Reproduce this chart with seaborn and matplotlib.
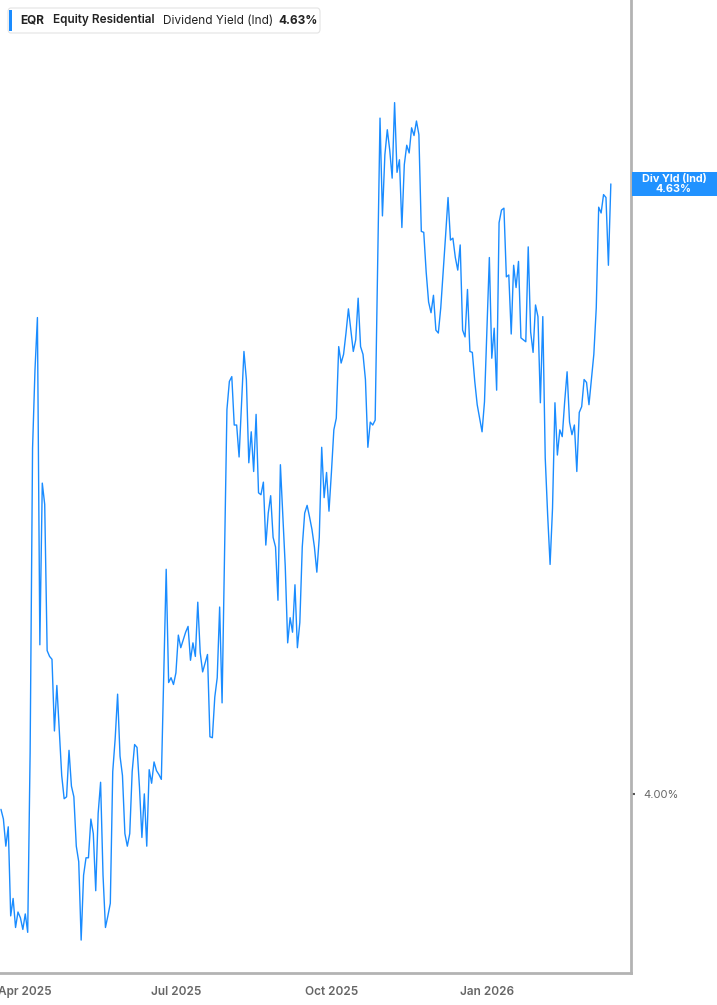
import matplotlib
matplotlib.use("Agg")
import matplotlib.pyplot as plt
import matplotlib.transforms as mtransforms
from matplotlib.patches import Rectangle, FancyBboxPatch
import seaborn as sns
import pandas as pd

# trading calendar used for the x axis (one step per trading session)
start_date = "2025-03-18"
end_date = "2026-03-31"
holidays = ["2025-04-18", "2025-05-26", "2025-06-19", "2025-07-04", "2025-09-01",
            "2025-11-27", "2025-12-25", "2026-01-01", "2026-01-19", "2026-02-16"]
tick_months = ["2025-04-01", "2025-07-01", "2025-10-01", "2026-01-01"]
tick_labels = ["Apr 2025", "Jul 2025", "Oct 2025", "Jan 2026"]

# session number (trading days since start) and dividend yield (%)
session = [0, 1, 2, 3, 4, 5, 6, 7, 8, 9, 10, 11, 12, 13, 14, 15, 16, 17, 18, 19,
           20, 21, 22, 23, 25, 26, 27, 28, 29, 30, 31, 32, 33, 34, 35, 36, 37, 38, 39, 40,
           41, 42, 43, 44, 45, 46, 47, 48, 49, 50, 51, 52, 53, 54, 55, 56, 57, 58, 59, 60,
           61, 62, 63, 64, 65, 66, 68, 69, 70, 71, 72, 73, 74, 75, 76, 77, 78, 79, 80, 81,
           82, 83, 84, 85, 86, 87, 88, 89, 90, 91, 93, 94, 95, 96, 97, 98, 100, 101, 102, 103,
           104, 105, 106, 107, 108, 109, 110, 111, 112, 113, 114, 115, 116, 117, 118, 119, 120, 121, 122, 123,
           124, 125, 126, 127, 128, 129, 130, 131, 132, 133, 134, 135, 136, 137, 138, 139, 140, 141, 142, 143,
           144, 145, 146, 147, 148, 149, 150, 151, 152, 153, 154, 156, 157, 158, 159, 160, 161, 162, 163, 164,
           165, 166, 167, 168, 169, 170, 171, 172, 173, 174, 175, 176, 177, 178, 179, 180, 181, 182, 183, 184,
           185, 186, 187, 188, 189, 190, 191, 192, 193, 194, 195, 196, 197, 198, 199, 200, 201, 202, 203, 204,
           205, 206, 207, 208, 209, 210, 211, 212, 213, 214, 215, 216, 217, 218, 219, 220, 221, 222, 223, 224,
           225, 226, 227, 228, 229, 230, 231, 232, 233, 234, 235, 236, 237, 238, 239, 240, 241, 242, 243, 244,
           245, 246, 247, 248, 249, 250, 251]
div_yield = [3.984, 3.974, 3.946, 3.966, 3.874, 3.892, 3.862, 3.878, 3.872, 3.860, 3.876, 3.857, 4.043, 4.357, 4.438, 4.492, 4.154, 4.321, 4.299, 4.148,
             4.142, 4.139, 4.065, 4.112, 4.019, 3.995, 3.997, 4.045, 4.008, 3.997, 3.946, 3.930, 3.849, 3.916, 3.934, 3.934, 3.974, 3.959, 3.900, 3.980,
             4.012, 3.916, 3.862, 3.874, 3.887, 4.023, 4.057, 4.103, 4.039, 4.019, 3.959, 3.946, 3.959, 4.023, 4.051, 4.048, 4.007, 3.955, 4.000, 3.946,
             4.025, 4.011, 4.033, 4.024, 4.020, 4.015, 4.232, 4.115, 4.120, 4.113, 4.125, 4.164, 4.151, 4.159, 4.167, 4.173, 4.138, 4.156, 4.142, 4.198,
             4.146, 4.126, 4.135, 4.144, 4.059, 4.058, 4.100, 4.120, 4.193, 4.094, 4.397, 4.426, 4.431, 4.381, 4.381, 4.348, 4.457, 4.428, 4.342, 4.374,
             4.333, 4.392, 4.311, 4.309, 4.322, 4.257, 4.290, 4.308, 4.265, 4.255, 4.200, 4.340, 4.288, 4.235, 4.156, 4.182, 4.167, 4.216, 4.151, 4.177,
             4.255, 4.290, 4.298, 4.286, 4.273, 4.255, 4.229, 4.265, 4.358, 4.306, 4.332, 4.292, 4.332, 4.376, 4.388, 4.462, 4.445, 4.454, 4.476, 4.501,
             4.479, 4.457, 4.469, 4.512, 4.462, 4.454, 4.428, 4.358, 4.384, 4.381, 4.386, 4.698, 4.597, 4.660, 4.686, 4.665, 4.636, 4.714, 4.642, 4.655,
             4.585, 4.650, 4.670, 4.662, 4.688, 4.680, 4.695, 4.681, 4.581, 4.580, 4.539, 4.508, 4.497, 4.515, 4.479, 4.476, 4.502, 4.539, 4.577, 4.616,
             4.572, 4.574, 4.554, 4.541, 4.567, 4.479, 4.472, 4.521, 4.457, 4.456, 4.426, 4.402, 4.388, 4.374, 4.405, 4.481, 4.554, 4.450, 4.481, 4.417,
             4.590, 4.603, 4.605, 4.534, 4.536, 4.475, 4.546, 4.523, 4.550, 4.471, 4.469, 4.467, 4.565, 4.477, 4.456, 4.505, 4.493, 4.404, 4.493, 4.347,
             4.288, 4.237, 4.295, 4.404, 4.350, 4.376, 4.369, 4.405, 4.436, 4.384, 4.371, 4.381, 4.333, 4.394, 4.400, 4.428, 4.425, 4.402, 4.428, 4.454,
             4.502, 4.606, 4.600, 4.619, 4.616, 4.546, 4.630]

ticker = "EQR"
company = "Equity Residential"
metric = "Dividend Yield (Ind)"
last_value = 4.63

LINE = "#1a8cff"
AXIS = "#b3b3b3"

sns.set_style("white")
plt.rcParams["font.family"] = ["Inter", "DejaVu Sans"]

trade_days = pd.bdate_range(start_date, end_date, freq="C", holidays=holidays)
tick_pos = [int(trade_days.searchsorted(pd.Timestamp(m))) for m in tick_months]

df = pd.DataFrame({"session": session, "yield": div_yield})

W, H = 717, 1005
fig = plt.figure(figsize=(W / 100, H / 100), dpi=100)
ax = fig.add_axes([0, 32 / H, 631 / W, 973 / H])

sns.lineplot(data=df, x="session", y="yield", ax=ax, color=LINE, linewidth=1.0)

ax.set_xlim(-0.4, 259.3)
ax.set_ylim(3.815, 4.820)
ax.set_xlabel("")
ax.set_ylabel("")

for side in ["top", "left"]:
    ax.spines[side].set_visible(False)
for side in ["bottom", "right"]:
    ax.spines[side].set_color(AXIS)
    ax.spines[side].set_linewidth(2)

ax.set_xticks(tick_pos)
ax.set_xticklabels(tick_labels, fontsize=8.5, fontweight="semibold", color="#666666")
ax.tick_params(axis="x", length=4, width=1, color="#777777", pad=5)

ax.yaxis.tick_right()
ax.set_yticks([4.0])
ax.set_yticklabels(["4.00%"], fontsize=8, color="#666666")
ax.tick_params(axis="y", length=3, width=1.5, color="#555555", pad=6)

# value tag on the right axis
trans = mtransforms.blended_transform_factory(ax.transAxes, ax.transData)
tag_h = 24 / 968
ax.add_patch(Rectangle((1.0015, last_value - tag_h / 2), 85 / 631, tag_h,
                       transform=trans, facecolor="#2192ff", edgecolor="none",
                       clip_on=False, zorder=5))
ax.text(1 + 43 / 631, last_value, "Div Yld (Ind)\n" + f"{last_value:.2f}%",
        transform=trans, ha="center", va="center", color="white",
        fontsize=7.8, fontweight="bold", linespacing=0.95, zorder=6, clip_on=False)

# header box
fig.add_artist(FancyBboxPatch((8 / W, 1 - 33 / H), 312 / W, 25 / H,
                              boxstyle="round,pad=0,rounding_size=0.004",
                              transform=fig.transFigure, facecolor="white",
                              edgecolor="#e3e3e3", linewidth=0.8))
fig.add_artist(Rectangle((9 / W, 1 - 31 / H), 3 / W, 21 / H,
                         transform=fig.transFigure, facecolor="#1a8cff",
                         edgecolor="none"))
yh = 1 - 20.5 / H
fig.text(20 / W, yh, ticker, fontsize=8.5, fontweight="bold", color="#222222", va="center")
fig.text(53 / W, yh, company, fontsize=8.5, fontweight="semibold", color="#222222", va="center")
fig.text(163 / W, yh, metric, fontsize=8.5, color="#222222", va="center")
fig.text(278 / W, yh, f"{last_value:.2f}%", fontsize=8.5, fontweight="bold", color="#222222", va="center")

fig.savefig("out.png", dpi=100, facecolor="white")
